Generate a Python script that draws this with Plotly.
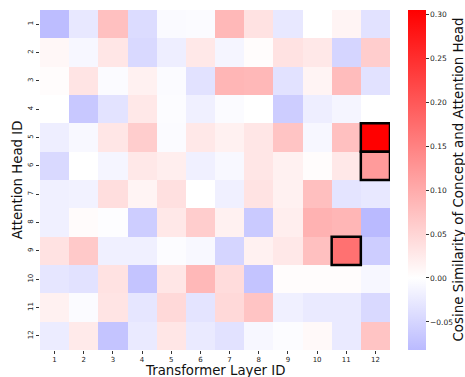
import plotly.graph_objects as go

layers = list(range(1, 13))
heads = list(range(1, 13))

# rows = attention heads 1..12, columns = transformer layers 1..12
sim = [
    [-0.078, -0.027, 0.075, -0.042, -0.006, -0.005, 0.085, 0.035, -0.027, 0.000, 0.013, -0.035],
    [0.010, -0.010, 0.030, -0.045, -0.020, 0.027, -0.012, 0.003, 0.035, 0.027, -0.050, 0.060],
    [0.003, 0.032, -0.005, 0.017, -0.005, -0.035, 0.087, 0.085, -0.034, 0.013, 0.080, -0.034],
    [0.000, -0.065, -0.033, 0.027, -0.003, -0.018, -0.005, 0.000, -0.060, -0.020, -0.012, 0.000],
    [-0.020, -0.008, 0.030, 0.060, -0.005, 0.027, 0.017, 0.030, 0.070, -0.010, 0.075, 0.305],
    [-0.045, 0.000, -0.012, 0.027, 0.020, -0.018, -0.008, 0.030, 0.017, 0.003, 0.027, 0.120],
    [-0.018, -0.015, 0.040, 0.013, 0.037, 0.000, -0.018, 0.033, 0.017, 0.077, -0.032, -0.027],
    [-0.018, 0.005, -0.002, -0.060, 0.027, 0.060, 0.017, -0.063, 0.020, 0.092, 0.087, -0.082],
    [0.035, 0.065, -0.018, -0.018, -0.003, -0.008, -0.050, 0.017, 0.027, 0.075, 0.170, -0.060],
    [-0.030, -0.034, 0.035, -0.070, 0.030, 0.085, 0.042, -0.070, 0.004, 0.004, 0.004, -0.010],
    [0.017, -0.005, 0.032, -0.030, 0.045, -0.032, 0.045, 0.070, -0.018, -0.025, -0.025, -0.045],
    [-0.023, 0.025, -0.070, -0.025, 0.030, -0.025, -0.034, -0.010, -0.003, 0.007, -0.025, 0.070],
]

highlight_cells = [(12, 5), (12, 6), (11, 9)]  # (layer, head)

cbar_ticks = [-0.05, 0.0, 0.05, 0.10, 0.15, 0.20, 0.25, 0.30]
cbar_ticktext = ["\u22120.05", "0.00", "0.05", "0.10", "0.15", "0.20", "0.25", "0.30"]
cbar_title = "Cosine Similarity of Concept and Attention Head"
x_title = "Transformer Layer ID"
y_title = "Attention Head ID"

flat = [v for r in sim for v in r]
zmin, zmax = min(flat), max(flat)
m = max(abs(zmin), abs(zmax))


def bwr(v):
    t = (v + m) / (2 * m)
    if t <= 0.5:
        c = 2 * t
        return f"rgb({round(255*c)},{round(255*c)},255)"
    c = 2 * (1 - t)
    return f"rgb(255,{round(255*c)},{round(255*c)})"


p0 = (0 - zmin) / (zmax - zmin)
colorscale = [[0.0, bwr(zmin)], [p0, bwr(0.0)], [1.0, bwr(zmax)]]

FONT = "DejaVu Sans"

fig = go.Figure(
    go.Heatmap(
        z=sim, x=layers, y=heads,
        zmin=zmin, zmax=zmax,
        colorscale=colorscale,
        xgap=0, ygap=0,
        colorbar=dict(
            thickness=18, len=1.0, lenmode="fraction",
            x=1.0514, xanchor="left", xpad=0,
            y=0.5, yanchor="middle", ypad=0,
            outlinewidth=0,
            tickvals=cbar_ticks, ticktext=cbar_ticktext,
            ticks="outside", ticklen=3, tickcolor="#333",
            tickfont=dict(size=7.5, family=FONT, color="#222"),
        ),
    )
)

for (lx, hy) in highlight_cells:
    fig.add_shape(type="rect", xref="x", yref="y",
                  x0=lx - 0.5, x1=lx + 0.5, y0=hy - 0.5, y1=hy + 0.5,
                  line=dict(color="black", width=2.5), fillcolor="rgba(0,0,0,0)")

fig.add_annotation(text=cbar_title, xref="paper", yref="paper",
                   x=1.193, y=0.5, xanchor="center", yanchor="middle",
                   textangle=-90, showarrow=False,
                   font=dict(size=13.4, family=FONT, color="#111"))
fig.add_annotation(text=x_title, xref="paper", yref="paper",
                   x=0.5, y=-0.0595, xanchor="center", yanchor="middle",
                   showarrow=False,
                   font=dict(size=13.3, family=FONT, color="#111"))

fig.update_layout(
    width=465, height=377,
    margin=dict(l=40, r=75, t=10, b=27, autoexpand=False),
    paper_bgcolor="white", plot_bgcolor="white",
    font=dict(family=FONT),
    xaxis=dict(
        tickvals=layers, ticktext=[str(v) for v in layers],
        ticks="outside", ticklen=3, tickcolor="#333",
        tickfont=dict(size=7, family=FONT, color="#222"),
        showgrid=False, zeroline=False, showline=False, automargin=False,
        range=[0.5, 12.5],
    ),
    yaxis=dict(
        tickvals=heads, ticktext=[str(v) for v in heads],
        ticks="outside", ticklen=3, tickcolor="#333", tickangle=-90,
        tickfont=dict(size=7, family=FONT, color="#222"),
        showgrid=False, zeroline=False, showline=False, automargin=False,
        title=dict(text=y_title, font=dict(size=13.3, family=FONT, color="#111"), standoff=1),
        range=[12.5, 0.5],
    ),
)

fig.write_html("out.html", config={"displayModeBar": False},
               post_script="document.body.style.margin='0px';document.body.style.overflow='hidden';")
